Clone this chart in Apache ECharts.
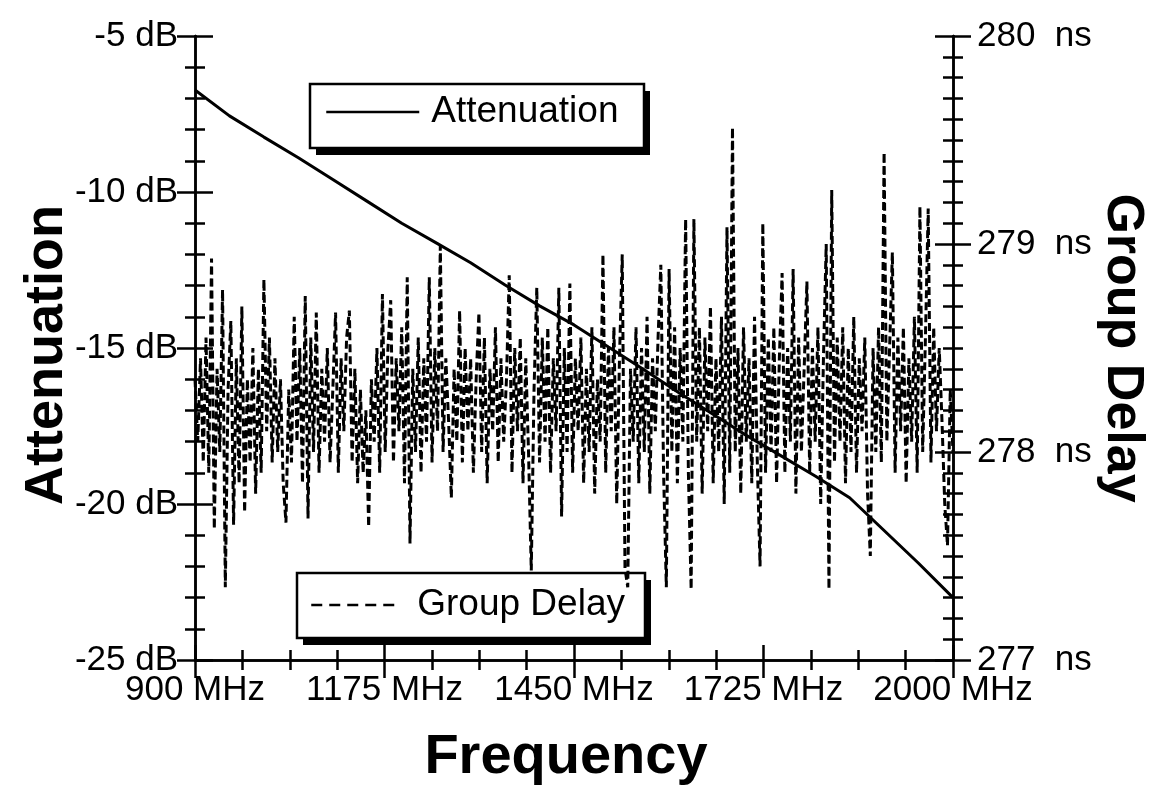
<!DOCTYPE html>
<html>
<head>
<meta charset="utf-8">
<script src="https://cdn.jsdelivr.net/npm/echarts@6/dist/echarts.min.js"></script>
<style>
html,body{margin:0;padding:0;background:#fff;}
#chart{width:1154px;height:794px;}
</style>
</head>
<body>
<div id="chart"></div>
<script>
// ---- Data ----
const attFreq = [900,950,1000,1050,1100,1150,1200,1250,1300,1350,1400,1450,1500,1550,1600,1650,1700,1750,1800,1850,1900,1950,2000];
const attDb   = [-6.73,-7.56,-8.24,-8.9,-9.6,-10.3,-11.0,-11.63,-12.27,-12.98,-13.65,-14.26,-14.97,-15.67,-16.4,-17.1,-17.8,-18.45,-19.1,-19.8,-20.85,-21.9,-23.0];

const delayFreqStart = 900;   // MHz, first sample
const delayFreqStep = 4;      // MHz between samples
const delayNs = [
278.35,278.05,278.45,277.95,278.55,277.9,278.93,277.63,278.4,278.0,
278.78,277.35,278.3,278.63,277.65,278.45,277.85,278.7,277.71,278.35,
277.95,278.5,277.8,278.4,277.9,278.83,278.1,278.55,277.95,278.45,
278.0,278.35,277.85,277.66,278.3,277.95,278.65,278.05,278.5,277.85,
278.75,277.68,278.55,278.0,278.67,277.9,278.4,278.05,278.5,277.95,
278.3,278.67,277.9,278.45,278.1,278.55,278.68,277.95,278.4,277.85,
278.3,277.9,278.2,277.64,278.35,278.05,278.5,277.9,278.76,278.0,
278.5,278.73,277.95,278.45,278.1,278.6,277.85,278.84,277.56,278.4,
278.0,278.55,277.9,278.45,278.05,278.84,277.95,278.5,278.1,278.99,
278.0,278.45,278.15,277.78,278.4,278.05,278.68,277.95,278.5,278.1,
278.45,277.9,278.35,278.67,278.0,278.55,277.85,278.4,278.1,278.6,
277.95,278.45,278.05,278.35,278.85,277.9,278.5,278.1,278.55,277.85,
278.45,278.0,277.43,278.3,278.79,277.95,278.55,278.05,278.6,277.9,
278.45,278.1,278.79,277.69,278.5,278.0,278.81,277.9,278.45,278.1,
278.55,277.85,278.4,278.0,278.6,277.8,278.35,278.05,278.95,277.9,
278.5,278.1,278.6,277.75,278.45,278.95,277.44,277.35,278.4,278.05,
278.6,277.85,278.5,278.0,278.65,277.8,278.45,278.1,278.55,278.9,
277.9,277.35,278.88,278.0,278.6,277.85,278.5,278.05,279.12,277.9,
277.34,279.12,278.05,278.6,277.8,278.55,278.1,278.7,277.85,278.45,
278.0,278.65,277.75,279.08,277.9,279.56,278.0,278.5,277.8,278.6,
278.05,278.45,277.85,278.65,277.95,277.45,279.10,277.9,278.55,278.0,
278.6,277.85,278.45,278.86,277.9,278.5,278.05,278.88,277.8,278.55,
278.0,278.4,278.82,277.9,278.5,278.05,278.6,277.75,278.45,279.0,
277.34,279.26,277.95,278.55,278.05,278.6,277.85,278.5,278.0,278.65,
277.9,278.45,278.1,278.55,277.8,277.5,278.5,278.0,278.6,277.95,
279.44,278.05,278.5,278.96,277.9,278.55,278.1,278.6,277.85,278.45,
278.05,278.65,277.9,279.18,278.0,278.55,279.17,277.95,278.6,278.1,
278.5,278.15,277.75,277.55,278.3,278.0
];

const xMin = 900, xMax = 2000, xStep = 275;
const yLeftMin = -25, yLeftMax = -5, yLeftStep = 5;
const yRightMin = 277, yRightMax = 280, yRightStep = 1;

// ---- Build ----
const FONT = "'Liberation Sans', Arial, Helvetica, sans-serif";
const BLACK = '#000';
const AXW = 2.5;
const attData = attFreq.map((f, i) => [f, attDb[i]]);
const delayData = delayNs.map((v, i) => [delayFreqStart + i * delayFreqStep, v]);

function xAx(inside) {
  return {
    type: 'value', min: xMin, max: xMax, interval: xStep, position: 'bottom',
    axisLine: { show: true, onZero: false, lineStyle: { color: BLACK, width: AXW } },
    axisTick: { show: true, inside: inside, length: inside ? 15 : 18, lineStyle: { color: BLACK, width: AXW } },
    minorTick: { show: true, splitNumber: 4, length: 10, lineStyle: { color: BLACK, width: AXW } },
    axisLabel: { show: !inside, formatter: v => v + ' MHz', fontSize: 35, color: BLACK, fontFamily: FONT, margin: 13 },
    splitLine: { show: false }, minorSplitLine: { show: false }
  };
}
function yAx(pos, inside, mn, mx, step, split, unit, margin) {
  return {
    type: 'value', position: pos, min: mn, max: mx, interval: step,
    axisLine: { show: true, onZero: false, lineStyle: { color: BLACK, width: AXW } },
    axisTick: { show: true, inside: inside, length: 18, lineStyle: { color: BLACK, width: AXW } },
    minorTick: { show: true, splitNumber: split, length: 10, lineStyle: { color: BLACK, width: AXW } },
    axisLabel: { show: !inside, formatter: v => v + unit, fontSize: 35, color: BLACK, fontFamily: FONT, margin: margin },
    splitLine: { show: false }, minorSplitLine: { show: false }
  };
}

const legendCommon = {
  orient: 'horizontal', itemGap: 10, padding: 0, itemHeight: 40,
  backgroundColor: 'transparent', borderWidth: 0, selectedMode: false,
  itemStyle: { opacity: 0 }
};

const chart = echarts.init(document.getElementById('chart'), null, { renderer: 'canvas' });
chart.setOption({
  backgroundColor: '#fff',
  animation: false,
  grid: { left: 195, right: 201, top: 36, bottom: 134, containLabel: false },
  xAxis: [xAx(false), xAx(true)],
  yAxis: [
    yAx('left', false, yLeftMin, yLeftMax, yLeftStep, 5, ' dB', 17),
    yAx('left', true, yLeftMin, yLeftMax, yLeftStep, 5, ' dB', 17),
    yAx('right', false, yRightMin, yRightMax, yRightStep, 10, '  ns', 24),
    yAx('right', true, yRightMin, yRightMax, yRightStep, 10, '  ns', 24)
  ],
  legend: [
    Object.assign({}, legendCommon, {
      data: ['Attenuation'], left: 325, top: 92, itemWidth: 93,
      lineStyle: { width: 2.5 },
      textStyle: { fontSize: 37, lineHeight: 40, color: BLACK, fontFamily: FONT, padding: [0, 0, 0, 7] }
    }),
    Object.assign({}, legendCommon, {
      data: ['Group Delay'], left: 310, top: 585, itemWidth: 90,
      lineStyle: { width: 2.5, type: [11, 7] },
      textStyle: { fontSize: 37, lineHeight: 40, color: BLACK, fontFamily: FONT, padding: [0, 0, 0, 11] }
    })
  ],
  series: [
    {
      name: 'Group Delay', type: 'line', xAxisIndex: 0, yAxisIndex: 2,
      data: delayData, symbol: 'none', showSymbol: false,
      lineStyle: { color: BLACK, width: 3, type: [8, 4] },
      itemStyle: { color: BLACK }, z: 2
    },
    {
      name: 'Attenuation', type: 'line', xAxisIndex: 0, yAxisIndex: 0,
      data: attData, symbol: 'none', showSymbol: false,
      lineStyle: { color: BLACK, width: 3 },
      itemStyle: { color: BLACK }, z: 3
    }
  ],
  graphic: [
    // legend boxes with drop shadow
    { type: 'rect', z: 1, shape: { x: 316, y: 91, width: 334, height: 64 }, style: { fill: BLACK } },
    { type: 'rect', z: 1, shape: { x: 310, y: 84, width: 334, height: 64 }, style: { fill: '#fff', stroke: BLACK, lineWidth: 2.5 } },
    { type: 'rect', z: 1, shape: { x: 303, y: 580, width: 348, height: 65 }, style: { fill: BLACK } },
    { type: 'rect', z: 1, shape: { x: 297, y: 573, width: 348, height: 65 }, style: { fill: '#fff', stroke: BLACK, lineWidth: 2.5 } },
    // axis titles
    { type: 'text', x: 47, y: 355, rotation: Math.PI / 2,
      style: { text: 'Attenuation', font: "bold 54px " + FONT, fill: BLACK, align: 'center', verticalAlign: 'middle' } },
    { type: 'text', x: 1122, y: 348, rotation: -Math.PI / 2,
      style: { text: 'Group Delay', font: "bold 52px " + FONT, fill: BLACK, align: 'center', verticalAlign: 'middle' } },
    { type: 'text', x: 566, y: 758,
      style: { text: 'Frequency', font: "bold 56px " + FONT, fill: BLACK, align: 'center', verticalAlign: 'middle' } }
  ]
});
</script>
</body>
</html>
